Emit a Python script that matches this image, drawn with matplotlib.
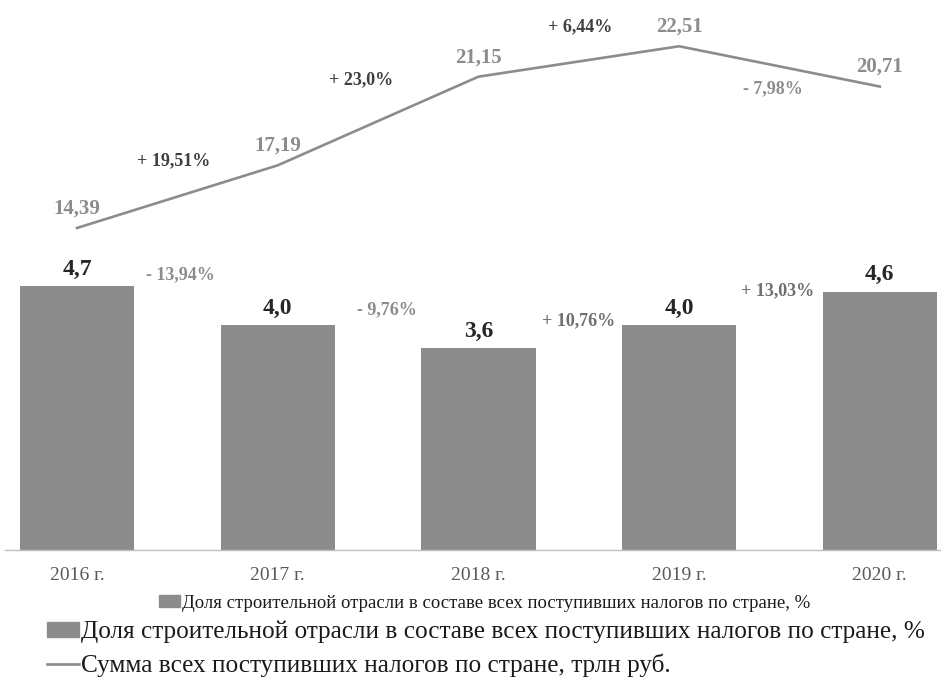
import matplotlib

matplotlib.use("Agg")
import matplotlib.pyplot as plt  # noqa: E402
from matplotlib.lines import Line2D  # noqa: E402
from matplotlib.patches import Patch  # noqa: E402

years = ["2016 г.", "2017 г.", "2018 г.", "2019 г.", "2020 г."]
share = [4.7, 4.0, 3.6, 4.0, 4.6]             # доля строительной отрасли, %
taxes = [14.39, 17.19, 21.15, 22.51, 20.71]   # сумма налогов, трлн руб.
taxes_growth = ["+ 19,51%", "+ 23,0%", "+ 6,44%", "- 7,98%"]
share_growth = ["- 13,94%", "- 9,76%", "+ 10,76%", "+ 13,03%"]

BAR, DARK, MID, TICK = "#8c8c8c", "#3f3f3f", "#6f6f6f", "#595959"
SERIF = "Liberation Serif"
plt.rcParams.update({"font.family": SERIF})


def fmt(v, nd):
    return f"{v:.{nd}f}".replace(".", ",")


fig = plt.figure(figsize=(9.41, 6.79), dpi=100)
fig.patch.set_facecolor("white")

W, H = 941, 679
L, R, T, B = 5, 941, 10, 550
ax = fig.add_axes([L / W, 1 - B / H, (R - L) / W, (B - T) / H])
x = list(range(len(years)))
ax.bar(x, share, width=0.57, color=BAR, zorder=2)
ax.set_xlim(-0.359, 4.305)
ax.set_ylim(0, 9.61)
ax.set_yticks([])
ax.set_xticks(x, years)
ax.tick_params(axis="x", length=0, pad=12, labelsize=14, labelcolor=TICK)
for s in ("top", "left", "right"):
    ax.spines[s].set_visible(False)
ax.spines["bottom"].set_color("#bfbfbf")
ax.spines["bottom"].set_linewidth(1.0)

for xi, v in zip(x, share):
    ax.annotate(fmt(v, 1), (xi, v), xytext=(0, 12), textcoords="offset points",
                ha="center", va="center", fontsize=17, fontweight="bold", color="#262626")

ax2 = ax.twinx()
ax2.plot(x, taxes, color=BAR, lw=1.9, zorder=3)
ax2.set_ylim(0, 24.13)
ax2.axis("off")
for xi, v in zip(x, taxes):
    ax2.annotate(fmt(v, 2), (xi, v), xytext=(0, 14), textcoords="offset points",
                 ha="center", va="center", fontsize=15, fontweight="bold", color=BAR)


def frac(px, py):
    return ((px - L) / (R - L), (B - py) / (B - T))


growth_pos = [(174, 161), (361, 80), (580, 27), (773, 89)]
growth_col = [DARK, DARK, DARK, BAR]
for txt, (px, py), c in zip(taxes_growth, growth_pos, growth_col):
    ax.text(*frac(px, py), txt, transform=ax.transAxes, ha="center", va="center",
            fontsize=13, fontweight="bold", color=c)

share_pos = [(180, 275), (387, 310), (579, 321), (778, 291)]
share_col = [BAR, BAR, MID, MID]
for txt, (px, py), c in zip(share_growth, share_pos, share_col):
    ax.text(*frac(px, py), txt, transform=ax.transAxes, ha="center", va="center",
            fontsize=13, fontweight="bold", color=c)

bar_label = "Доля строительной отрасли в составе всех поступивших налогов по стране, %"
line_label = "Сумма всех поступивших налогов по стране, трлн руб."

# маленькая легенда под осью
leg1 = fig.legend([Patch(color=BAR)], [bar_label], loc="center", bbox_to_anchor=(485 / W, 1 - 603 / H),
                  frameon=False, fontsize=13.5, handlelength=1.1, handleheight=0.6,
                  handletextpad=0.12, borderpad=0)

# большая легенда
leg2 = fig.legend([Patch(color=BAR), Line2D([], [], color=BAR, lw=1.9)], [bar_label, line_label],
                  loc="lower left", bbox_to_anchor=(47 / W, 2 / H), frameon=False,
                  fontsize=18.2, handlelength=1.25, handleheight=0.55, handletextpad=0.1,
                  labelspacing=0.4, borderpad=0, borderaxespad=0)
for t in leg2.get_texts():
    t.set_color("#1a1a1a")
for t in leg1.get_texts():
    t.set_color("#1a1a1a")

fig.savefig("out.png", dpi=100, facecolor="white")
